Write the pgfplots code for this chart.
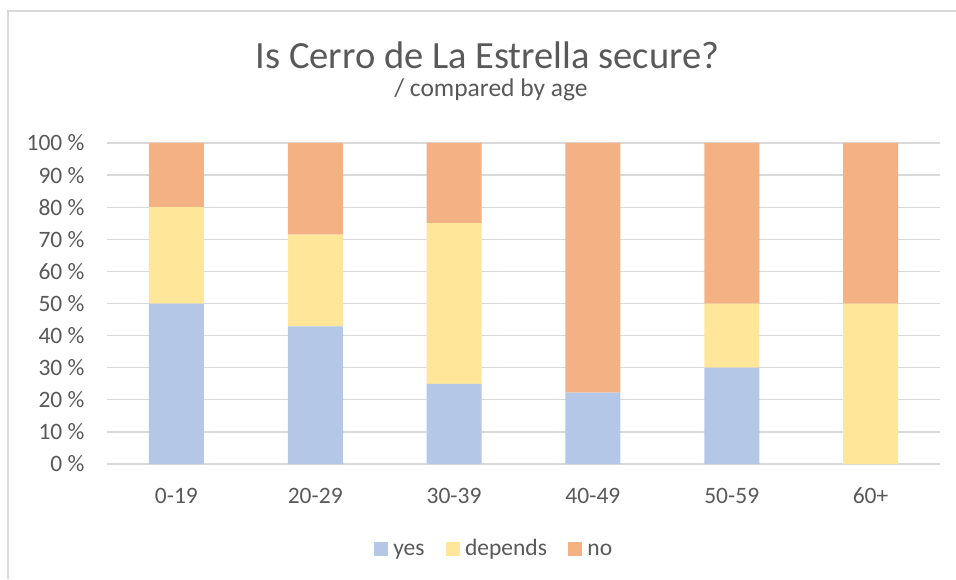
\documentclass[border=0pt]{standalone}
\usepackage{pgfplots}
\pgfplotsset{compat=1.18}
\usepackage{fontspec}
\setmainfont{Carlito}
\definecolor{cyes}{HTML}{B4C7E7}
\definecolor{cdep}{HTML}{FFE699}
\definecolor{cno}{HTML}{F4B183}
\definecolor{ctext}{HTML}{595959}
\definecolor{cgrid}{HTML}{D9D9D9}
\begin{document}
\begin{tikzpicture}[x=1pt,y=1pt]
\path[use as bounding box] (0,0) rectangle (956,579);
% chart frame (top and left edges)
\draw[cgrid,line width=1.2pt] (8,0) -- (8,568) -- (956,568);
\node[anchor=base,text=ctext,font=\fontsize{38.5}{46}\selectfont] at (487.5,510) {Is Cerro de La Estrella secure?};
\node[anchor=base,text=ctext,font=\fontsize{25.5}{30}\selectfont] at (491,482) {/ compared by age};
\begin{axis}[
  at={(107pt,115pt)}, anchor=south west,
  scale only axis, width=833pt, height=321pt,
  ybar stacked, bar width=55pt,
  xmin=-0.5, xmax=5.5, ymin=0, ymax=100,
  xtick={0,1,2,3,4,5},
  xticklabels={0-19,20-29,30-39,40-49,50-59,60+},
  ytick={0,10,...,100},
  yticklabels={0 \%,10 \%,20 \%,30 \%,40 \%,50 \%,60 \%,70 \%,80 \%,90 \%,100 \%},
  /pgf/number format/assume math mode=true,
  ymajorgrids, grid style={cgrid,line width=1.2pt},
  axis line style={draw=none},
  axis x line*=bottom,
  extra y ticks={0}, extra y tick labels={},
  extra y tick style={grid style={cgrid,line width=1.4pt}},
  major tick length=0pt,
  tick label style={text=ctext,font=\fontsize{23.5}{28}\selectfont},
  yticklabel style={xshift=-19pt},
  xticklabel style={anchor=base,yshift=-39pt},
  legend columns=3,
  legend cell align=left,
  legend style={draw=none, at={(0.464,-0.2742)}, anchor=center,
    font=\fontsize{23.5}{28}\selectfont, text=ctext,
    nodes={inner xsep=1pt, text height=11pt, text depth=5pt},
    /tikz/every odd column/.append style={column sep=4.5pt},
    /tikz/every even column/.append style={column sep=20pt}},
  legend image code/.code={\fill[#1] (0pt,-3pt) rectangle (14pt,11pt);},
]
\addplot[fill=cyes,draw=none] coordinates {(0,50) (1,42.86) (2,25) (3,22.22) (4,30) (5,0)};
\addplot[fill=cdep,draw=none] coordinates {(0,30) (1,28.57) (2,50) (3,0) (4,20) (5,50)};
\addplot[fill=cno,draw=none] coordinates {(0,20) (1,28.57) (2,25) (3,77.78) (4,50) (5,50)};
\legend{yes,depends,no}
\end{axis}
\end{tikzpicture}
\end{document}
